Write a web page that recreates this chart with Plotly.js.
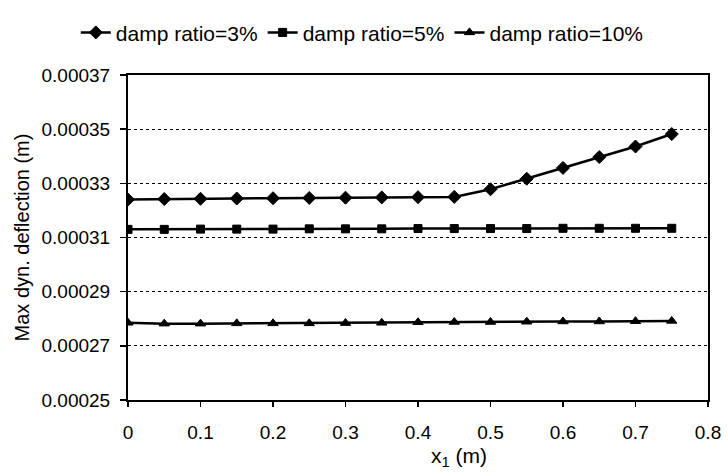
<!DOCTYPE html>
<html>
<head>
<meta charset="utf-8">
<script src="https://cdn.plot.ly/plotly-3.0.1.min.js"></script>
<style>html,body{margin:0;padding:0;background:#fff;}#chart{width:728px;height:475px;}</style>
</head>
<body>
<div id="chart"></div>
<script>
// x1 positions (m)
const x1 = [0, 0.05, 0.1, 0.15, 0.2, 0.25, 0.3, 0.35, 0.4, 0.45, 0.5, 0.55, 0.6, 0.65, 0.7, 0.75];
// Max dynamic deflection (m)
const damp3 = [0.000324, 0.0003242, 0.0003243, 0.0003244, 0.0003245, 0.0003246, 0.0003247, 0.0003248, 0.0003249, 0.000325, 0.0003278, 0.0003317, 0.0003357, 0.0003397, 0.0003436, 0.0003482];
const damp5 = [0.000313, 0.000313, 0.0003131, 0.0003131, 0.0003131, 0.0003132, 0.0003132, 0.0003132, 0.0003133, 0.0003133, 0.0003133, 0.0003133, 0.0003134, 0.0003134, 0.0003134, 0.0003134];
const damp10 = [0.0002785, 0.0002782, 0.0002782, 0.0002783, 0.0002783, 0.0002783, 0.0002784, 0.0002785, 0.0002787, 0.0002788, 0.0002788, 0.0002789, 0.000279, 0.000279, 0.0002791, 0.0002792];
const seriesNames = ['damp ratio=3%', 'damp ratio=5%', 'damp ratio=10%'];
const xTickVals = [0, 0.1, 0.2, 0.3, 0.4, 0.5, 0.6, 0.7, 0.8];
const xTickText = ['0', '0.1', '0.2', '0.3', '0.4', '0.5', '0.6', '0.7', '0.8'];
const yTickVals = [0.00025, 0.00027, 0.00029, 0.00031, 0.00033, 0.00035, 0.00037];
const yTickText = ['0.00025', '0.00027', '0.00029', '0.00031', '0.00033', '0.00035', '0.00037'];

const FONT = 'Liberation Sans, Arial, sans-serif';
const mk = (name, y, symbol, size) => ({
  type: 'scatter', mode: 'lines+markers', name: name, x: x1, y: y,
  line: {color: '#000', width: 2.5},
  marker: {symbol: symbol, size: size, color: '#000', line: {color: '#000', width: 1}}
});
const data = [
  mk(seriesNames[0], damp3, 'diamond', 10),
  mk(seriesNames[1], damp5, 'square', 8),
  mk(seriesNames[2], damp10, 'triangle-up', 9)
];
const layout = {
  width: 728, height: 475,
  margin: {l: 128, r: 20, t: 70, b: 75},
  paper_bgcolor: '#fff', plot_bgcolor: '#fff',
  font: {family: FONT, color: '#000', size: 19},
  showlegend: true,
  legend: {orientation: 'h', x: -0.09, xanchor: 'left', y: 1.13, yanchor: 'middle',
    font: {family: FONT, size: 21, color: '#000'}, itemwidth: 30, tracegroupgap: 0, bgcolor: 'rgba(0,0,0,0)'},
  xaxis: {
    range: [0, 0.8], tickvals: xTickVals, ticktext: xTickText,
    showline: true, linecolor: '#000', linewidth: 2, mirror: true,
    ticks: 'outside', ticklen: 5, tickwidth: 1.5, tickcolor: '#000',
    ticklabelstandoff: 9, showgrid: false, zeroline: false,
    tickfont: {family: FONT, size: 19, color: '#000'}
  },
  yaxis: {
    range: [0.00025, 0.00037], tickvals: yTickVals, ticktext: yTickText,
    showline: true, linecolor: '#000', linewidth: 2, mirror: true,
    ticks: 'outside', ticklen: 6, tickwidth: 1.5, tickcolor: '#000',
    ticklabelstandoff: 6,
    showgrid: true, gridcolor: '#000', gridwidth: 1, griddash: 'dot', zeroline: false,
    tickfont: {family: FONT, size: 19, color: '#000'},
    title: {text: 'Max dyn. deflection (m)', font: {family: FONT, size: 20, color: '#000'}, standoff: 7}
  },
  annotations: [{
    text: 'x<sub>1</sub> (m)', xref: 'paper', yref: 'paper', x: 0.57, y: -0.175,
    xanchor: 'center', yanchor: 'middle', showarrow: false,
    font: {family: FONT, size: 21, color: '#000'}
  }]
};
Plotly.newPlot('chart', data, layout, {displayModeBar: false, staticPlot: true});
</script>
</body>
</html>
